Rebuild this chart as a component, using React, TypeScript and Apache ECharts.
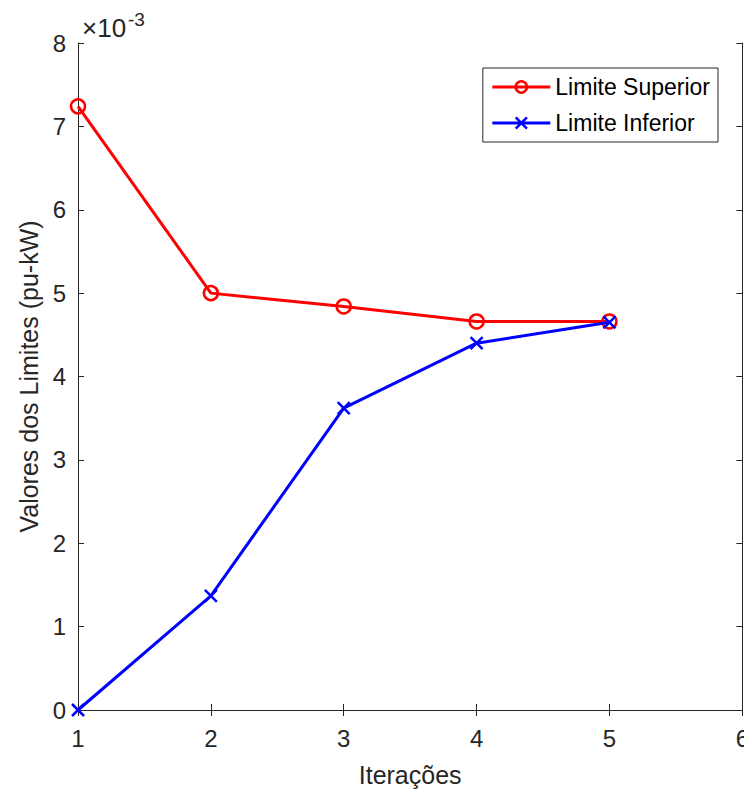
import React, { useEffect, useRef } from "react";
import * as echarts from "echarts";

const iterations = [1, 2, 3, 4, 5];
const upperLimit = [7.24, 5.0, 4.84, 4.66, 4.66];
const lowerLimit = [0.0, 1.37, 3.62, 4.4, 4.65];
const seriesNames = ["Limite Superior", "Limite Inferior"];
const xAxisTitle = "Iterações";
const yAxisTitle = "Valores dos Limites (pu-kW)";

const FONT = "Liberation Sans";

export default function App() {
  const ref = useRef<HTMLDivElement>(null);
  useEffect(() => {
    const chart = echarts.init(ref.current!, null, { renderer: "svg" });
    const axisCommon = {
      axisLine: { show: true, lineStyle: { color: "#262626", width: 1 } },
      axisTick: { show: true, inside: true, length: 6, lineStyle: { color: "#262626" } },
      splitLine: { show: false },
    };
    chart.setOption({
      animation: false,
      backgroundColor: "#ffffff",
      grid: { left: 70, top: 35, width: 666, height: 667, containLabel: false },
      xAxis: [
        {
          type: "value",
          min: 1,
          max: 6,
          interval: 1,
          position: "bottom",
          name: xAxisTitle,
          nameLocation: "middle",
          nameGap: 52,
          nameTextStyle: { fontFamily: FONT, fontSize: 25, color: "#262626" },
          axisLabel: { fontFamily: FONT, fontSize: 24, color: "#262626", margin: 16 },
          ...axisCommon,
        },
        {
          type: "value",
          min: 1,
          max: 6,
          interval: 1,
          position: "top",
          axisLabel: { show: false },
          ...axisCommon,
        },
      ],
      yAxis: [
        {
          type: "value",
          min: 0,
          max: 8,
          interval: 1,
          position: "left",
          name: yAxisTitle,
          nameLocation: "middle",
          nameGap: 36,
          nameTextStyle: { fontFamily: FONT, fontSize: 25, color: "#262626" },
          axisLabel: { fontFamily: FONT, fontSize: 24, color: "#262626", margin: 12 },
          ...axisCommon,
        },
        {
          type: "value",
          min: 0,
          max: 8,
          interval: 1,
          position: "right",
          axisLabel: { show: false },
          ...axisCommon,
        },
      ],
      legend: {
        right: 34,
        top: 60,
        orient: "vertical",
        backgroundColor: "#ffffff",
        borderColor: "#262626",
        borderWidth: 1,
        borderRadius: 0,
        padding: [7, 8, 7, 8],
        itemWidth: 58,
        itemHeight: 14,
        itemGap: 12,
        lineStyle: { width: 3 },
        itemStyle: { borderWidth: 2.5 },
        textStyle: { fontFamily: FONT, fontSize: 23, lineHeight: 24, color: "#000000" },
        data: seriesNames,
      },
      graphic: [
        {
          type: "text",
          x: 74,
          y: 20,
          style: {
            text: "×10",
            fontFamily: FONT,
            fontSize: 26,
            fill: "#262626",
            verticalAlign: "middle",
            align: "left",
          },
        },
        {
          type: "text",
          x: 120,
          y: 11,
          style: {
            text: "-3",
            fontFamily: FONT,
            fontSize: 19,
            fill: "#262626",
            verticalAlign: "middle",
            align: "left",
          },
        },
      ],
      series: [
        {
          name: seriesNames[0],
          type: "line",
          data: iterations.map((x, i) => [x, upperLimit[i]]),
          symbol: "circle",
          symbolSize: 14,
          lineStyle: { color: "#ff0000", width: 3 },
          itemStyle: { color: "rgba(255,255,255,0)", borderColor: "#ff0000", borderWidth: 2.5 },
          z: 2,
        },
        {
          name: seriesNames[1],
          type: "line",
          data: iterations.map((x, i) => [x, lowerLimit[i]]),
          symbol: "path://M0,0L10,10M10,0L0,10",
          symbolSize: 12,
          lineStyle: { color: "#0000ff", width: 3 },
          itemStyle: { color: "#0000ff", borderColor: "#0000ff", borderWidth: 2.5 },
          z: 3,
        },
      ],
    });
    return () => chart.dispose();
  }, []);
  return <div ref={ref} style={{ width: 744, height: 785 }} />;
}
